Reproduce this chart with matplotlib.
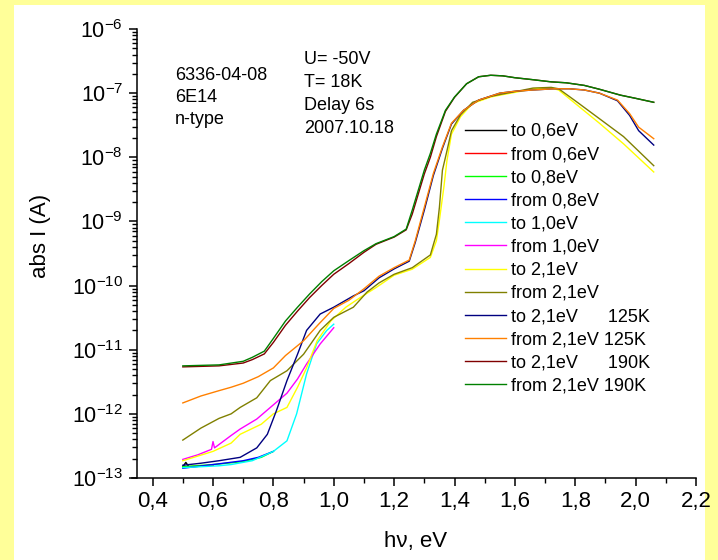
import numpy as np
import matplotlib
matplotlib.use("Agg")
import matplotlib.pyplot as plt
from matplotlib.patches import Rectangle
from matplotlib.ticker import FixedLocator, LogLocator, FuncFormatter, NullFormatter

plt.rcParams['font.family'] = ['Liberation Sans', 'DejaVu Sans']
plt.rcParams['mathtext.fontset'] = 'custom'
plt.rcParams['mathtext.rm'] = 'Liberation Sans'
plt.rcParams['mathtext.it'] = 'Liberation Sans:italic'
plt.rcParams['mathtext.bf'] = 'Liberation Sans:bold'
plt.rcParams['mathtext.default'] = 'rm'

# photon energy (eV) and |I| (A), one pair per scan
x_to06 = [0.50, 0.51, 0.52, 0.55, 0.60]
y_to06 = [1.50e-13, 1.75e-13, 1.50e-13, 1.52e-13, 1.58e-13]
x_from06 = [0.60, 0.55, 0.50]
y_from06 = [1.58e-13, 1.53e-13, 1.48e-13]

x_to08 = [0.50, 0.60, 0.70, 0.76, 0.80]
y_to08 = [1.50e-13, 1.62e-13, 1.80e-13, 2.10e-13, 2.60e-13]
x_from08 = [0.80, 0.75, 0.70, 0.60, 0.50]
y_from08 = [2.60e-13, 2.10e-13, 1.86e-13, 1.62e-13, 1.42e-13]

x_to10 = [0.50, 0.56, 0.62, 0.66, 0.73, 0.80, 0.845, 0.877, 0.91, 0.943, 0.977, 1.00]
y_to10 = [1.45e-13, 1.50e-13, 1.55e-13, 1.62e-13, 1.86e-13, 2.6e-13, 3.8e-13,
          1.0e-12, 4.2e-12, 1.23e-11, 2.0e-11, 2.5e-11]
x_from10 = [1.00, 0.955, 0.91, 0.88, 0.845, 0.79, 0.745, 0.69, 0.66, 0.605, 0.60, 0.595,
            0.55, 0.50]
y_from10 = [2.2e-11, 1.23e-11, 6.0e-12, 3.5e-12, 2.1e-12, 1.26e-12, 8.3e-13, 5.8e-13,
            4.6e-13, 2.95e-13, 3.7e-13, 2.8e-13, 2.3e-13, 1.95e-13]

x_to21 = [0.50, 0.60, 0.66, 0.69, 0.76, 0.80, 0.845, 0.88, 0.91, 0.945, 0.99, 1.04, 1.09,
          1.14, 1.20, 1.26, 1.32, 1.34, 1.35, 1.365, 1.375, 1.39, 1.42, 1.46, 1.52, 1.55,
          1.62, 1.66, 1.72, 1.745, 1.80, 1.88, 1.96, 2.06]
y_to21 = [1.86e-13, 2.6e-13, 3.5e-13, 4.8e-13, 6.9e-13, 1.0e-12, 1.26e-12, 2.6e-12,
          5.2e-12, 1.38e-11, 2.8e-11, 4.6e-11, 6.6e-11, 9.3e-11, 1.45e-10, 1.8e-10,
          2.75e-10, 5.0e-10, 1.05e-9, 3.5e-9, 8.9e-9, 2.3e-8, 4.3e-8, 6.9e-8, 8.7e-8,
          9.3e-8, 1.07e-7, 1.17e-7, 1.2e-7, 1.12e-7, 6.9e-8, 3.4e-8, 1.62e-8, 5.9e-9]
x_from21 = [2.06, 1.96, 1.88, 1.80, 1.745, 1.72, 1.66, 1.62, 1.55, 1.52, 1.46, 1.42, 1.39,
            1.375, 1.36, 1.35, 1.34, 1.32, 1.26, 1.20, 1.15, 1.11, 1.065, 1.00, 0.955,
            0.90, 0.845, 0.79, 0.745, 0.69, 0.66, 0.62, 0.56, 0.50]
y_from21 = [7.4e-9, 2.1e-8, 4.0e-8, 7.6e-8, 1.17e-7, 1.23e-7, 1.2e-7, 1.1e-7, 9.5e-8,
            8.9e-8, 7.2e-8, 4.6e-8, 2.6e-8, 1.26e-8, 6.3e-9, 1.66e-9, 6.3e-10, 3.0e-10,
            1.9e-10, 1.5e-10, 1.1e-10, 7.9e-11, 4.6e-11, 3.2e-11, 2.0e-11, 8.5e-12,
            4.7e-12, 3.3e-12, 1.78e-12, 1.26e-12, 1.0e-12, 8.5e-13, 6.0e-13, 3.9e-13]

x_to21_125 = [0.50, 0.56, 0.62, 0.69, 0.745, 0.78, 0.81, 0.845, 0.88, 0.91, 0.955, 1.00,
              1.065, 1.10, 1.15, 1.20, 1.25, 1.27, 1.30, 1.33, 1.36, 1.39, 1.43, 1.48,
              1.55, 1.60, 1.66, 1.73, 1.78, 1.83, 1.88, 1.94, 1.98, 2.01, 2.06]
y_to21_125 = [1.58e-13, 1.7e-13, 1.86e-13, 2.1e-13, 2.95e-13, 4.8e-13, 1.12e-12, 3.3e-12,
              8.5e-12, 2.0e-11, 3.6e-11, 4.6e-11, 6.9e-11, 8.3e-11, 1.32e-10, 1.82e-10,
              2.4e-10, 4.7e-10, 1.5e-9, 5.2e-9, 1.38e-8, 3.3e-8, 5.4e-8, 7.8e-8, 1.0e-7,
              1.07e-7, 1.12e-7, 1.17e-7, 1.17e-7, 1.12e-7, 1.0e-7, 7.6e-8, 4.5e-8,
              2.6e-8, 1.55e-8]
x_from21_125 = [2.06, 2.01, 1.98, 1.94, 1.88, 1.83, 1.78, 1.73, 1.66, 1.60, 1.55, 1.48,
                1.43, 1.39, 1.36, 1.33, 1.30, 1.27, 1.25, 1.20, 1.15, 1.10, 1.05, 1.00,
                0.95, 0.90, 0.84, 0.80, 0.75, 0.70, 0.66, 0.62, 0.56, 0.50]
y_from21_125 = [1.95e-8, 2.95e-8, 4.8e-8, 7.8e-8, 1.0e-7, 1.12e-7, 1.17e-7, 1.17e-7,
                1.12e-7, 1.07e-7, 1.0e-7, 7.8e-8, 5.4e-8, 3.4e-8, 1.45e-8, 5.6e-9,
                1.66e-9, 5.0e-10, 2.5e-10, 1.9e-10, 1.4e-10, 8.9e-11, 5.9e-11, 4.4e-11,
                2.5e-11, 1.38e-11, 8.1e-12, 5.2e-12, 3.8e-12, 3.0e-12, 2.6e-12, 2.3e-12,
                1.9e-12, 1.48e-12]

x_190 = [0.50, 0.62, 0.70, 0.73, 0.77, 0.80, 0.84, 0.88, 0.92, 0.96, 1.00, 1.05, 1.10,
         1.14, 1.20, 1.24, 1.26, 1.30, 1.32, 1.34, 1.37, 1.40, 1.44, 1.48, 1.52, 1.56,
         1.60, 1.66, 1.72, 1.77, 1.83, 1.88, 1.95, 2.00, 2.06]
y_to21_190 = [5.4e-12, 5.6e-12, 6.2e-12, 7.0e-12, 8.6e-12, 1.3e-11, 2.4e-11, 4.0e-11,
              6.5e-11, 1.0e-10, 1.5e-10, 2.2e-10, 3.3e-10, 4.4e-10, 5.7e-10, 7.4e-10,
              1.3e-9, 5.5e-9, 1.0e-8, 2.1e-8, 5.2e-8, 8.6e-8, 1.4e-7, 1.8e-7, 1.9e-7,
              1.86e-7, 1.74e-7, 1.62e-7, 1.5e-7, 1.45e-7, 1.32e-7, 1.15e-7, 9.3e-8,
              8.3e-8, 7.2e-8]
y_from21_190 = [5.6e-12, 5.8e-12, 6.6e-12, 7.6e-12, 9.5e-12, 1.5e-11, 2.8e-11, 4.6e-11,
                7.4e-11, 1.15e-10, 1.7e-10, 2.45e-10, 3.5e-10, 4.5e-10, 5.8e-10, 7.6e-10,
                1.5e-9, 6.3e-9, 1.15e-8, 2.3e-8, 5.4e-8, 8.7e-8, 1.4e-7, 1.8e-7, 1.9e-7,
                1.86e-7, 1.74e-7, 1.62e-7, 1.5e-7, 1.45e-7, 1.32e-7, 1.15e-7, 9.3e-8,
                8.3e-8, 7.2e-8]

series = [
    ("to 0,6eV", x_to06, y_to06, "#000000"),
    ("from 0,6eV", x_from06, y_from06, "#FF0000"),
    ("to 0,8eV", x_to08, y_to08, "#00FF00"),
    ("from 0,8eV", x_from08, y_from08, "#0000FF"),
    ("to 1,0eV", x_to10, y_to10, "#00FFFF"),
    ("from 1,0eV", x_from10, y_from10, "#FF00FF"),
    ("to 2,1eV", x_to21, y_to21, "#FFFF00"),
    ("from 2,1eV", x_from21, y_from21, "#808000"),
    ("to 2,1eV      125K", x_to21_125, y_to21_125, "#000080"),
    ("from 2,1eV 125K", x_from21_125, y_from21_125, "#FF8000"),
    ("to 2,1eV      190K", x_190, y_to21_190, "#800000"),
    ("from 2,1eV 190K", x_190, y_from21_190, "#008000"),
]

fig = plt.figure(figsize=(7.18, 5.6), dpi=100, facecolor="#FFFF99")
panel = Rectangle((14 / 718, 0), 691 / 718, 555 / 560, transform=fig.transFigure,
                  facecolor="white", edgecolor="none", zorder=-10)
fig.patches.append(panel)

ax = fig.add_axes([131.5 / 718, 82 / 560, 564.5 / 718, 449 / 560])
ax.set_facecolor("none")
ax.set_zorder(1)

for label, xs, ys, col in series:
    ax.plot(xs, ys, color=col, lw=1.0, label=label)

ax.set_yscale("log")
ax.set_xlim(0.33, 2.2)
ax.set_ylim(1e-13, 1e-6)

for s in ["top", "right"]:
    ax.spines[s].set_visible(False)
ax.spines["left"].set_position(("data", 0.348))
ax.spines["left"].set_linewidth(1.1)
ax.spines["bottom"].set_linewidth(1.1)

ax.xaxis.set_major_locator(FixedLocator(np.arange(0.4, 2.21, 0.2)))
ax.xaxis.set_minor_locator(FixedLocator(np.arange(0.4, 2.21, 0.1)))
ax.xaxis.set_major_formatter(FuncFormatter(lambda v, p: f"{v:.1f}".replace(".", ",")))
ax.yaxis.set_major_locator(LogLocator(base=10, numticks=20))
ax.yaxis.set_minor_locator(LogLocator(base=10, subs=np.arange(2, 10), numticks=20))
ax.yaxis.set_minor_formatter(NullFormatter())
ax.yaxis.set_major_formatter(FuncFormatter(lambda v, p: r"$10^{%d}$" % round(np.log10(v))))

ax.tick_params(axis="both", which="major", direction="out", length=6, width=1.1,
               labelsize=16)
ax.tick_params(axis="y", which="major", labelsize=15.5)
ax.tick_params(axis="both", which="minor", direction="out", length=3.5, width=1.0)
ax.tick_params(axis="x", which="major", pad=3.5)
ax.tick_params(axis="y", which="major", pad=4)

ax.set_xlabel("h\u03bd, eV", fontsize=16)
ax.set_ylabel("abs I (A)", fontsize=16)
ax.xaxis.set_label_coords(0.503, -0.118)
ax.yaxis.set_label_coords(-0.142, 0.54)

for i, t in enumerate(["6336-04-08", "6E14", "n-type"]):
    fig.text(175 / 718, 1 - (75 + 22.5 * i) / 560, t, fontsize=13, va="center")
for i, t in enumerate(["U= -50V", "T= 18K", "Delay 6s", "2007.10.18"]):
    fig.text(304 / 718, 1 - (60 + 22.8 * i) / 560, t, fontsize=13, va="center")

ax.legend(loc="upper left", bbox_to_anchor=(465 / 718, 1 - 123 / 560),
          bbox_transform=fig.transFigure, frameon=False, fontsize=13,
          borderpad=0, borderaxespad=0, handlelength=2.27, handletextpad=0.28,
          labelspacing=0.34)

fig.savefig("out.png", dpi=100, facecolor=fig.get_facecolor())
